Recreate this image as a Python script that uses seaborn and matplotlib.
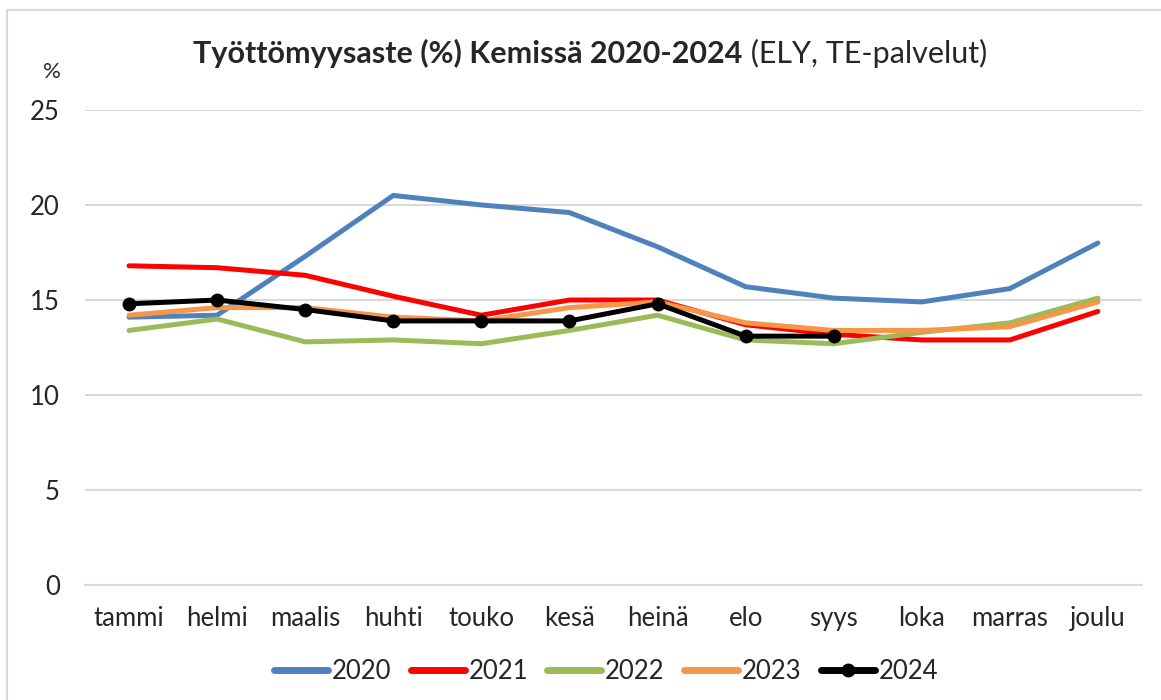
import numpy as np
import pandas as pd
import matplotlib
matplotlib.use('Agg')
import matplotlib.pyplot as plt
import seaborn as sns
from matplotlib.patches import Rectangle

kuukaudet = ['tammi', 'helmi', 'maalis', 'huhti', 'touko', 'kesä',
             'heinä', 'elo', 'syys', 'loka', 'marras', 'joulu']

v2020 = [14.1, 14.2, 17.3, 20.5, 20.0, 19.6, 17.8, 15.7, 15.1, 14.9, 15.6, 18.0]
v2021 = [16.8, 16.7, 16.3, 15.2, 14.2, 15.0, 15.0, 13.7, 13.2, 12.9, 12.9, 14.4]
v2022 = [13.4, 14.0, 12.8, 12.9, 12.7, 13.4, 14.2, 12.9, 12.7, 13.3, 13.8, 15.1]
v2023 = [14.2, 14.6, 14.6, 14.1, 13.9, 14.6, 14.9, 13.8, 13.4, 13.4, 13.6, 14.9]
v2024 = [14.8, 15.0, 14.5, 13.9, 13.9, 13.9, 14.8, 13.1, 13.1, np.nan, np.nan, np.nan]

vuodet = ['2020', '2021', '2022', '2023', '2024']
sarjat = [v2020, v2021, v2022, v2023, v2024]
varit = ['#4F81BD', '#FF0000', '#9BBB59', '#F79646', '#000000']

sns.set_theme(style='white')
plt.rcParams['font.family'] = ['Lato', 'DejaVu Sans']

fig = plt.figure(figsize=(11.61, 7), dpi=100)
ax = fig.add_axes([0.0732, 0.164, 0.9104, 0.679])

# ulkoreunus kuten Excel-kaaviossa
fig.patches.append(Rectangle((0.006, -0.05), 1.2, 1.036, transform=fig.transFigure,
                             fill=False, edgecolor='#D9D9D9', linewidth=1.5))

for vuosi, arvot, vari in zip(vuodet, sarjat, varit):
    df = pd.DataFrame({'kk': np.arange(len(kuukaudet)), 'arvo': arvot}).dropna()
    if vuosi == '2024':
        sns.lineplot(data=df, x='kk', y='arvo', ax=ax, color=vari, linewidth=3.6,
                     marker='o', markersize=10, markeredgewidth=0, label=vuosi)
    else:
        sns.lineplot(data=df, x='kk', y='arvo', ax=ax, color=vari, linewidth=3.6,
                     label=vuosi)

ax.set_xlim(-0.5, 11.5)
ax.set_ylim(0, 25)
ax.set_yticks([0, 5, 10, 15, 20, 25])
ax.set_xticks(range(len(kuukaudet)))
ax.set_xticklabels(kuukaudet, fontsize=18.5)
ax.set_xticks(np.arange(-0.5, 12, 1), minor=True)
ax.tick_params(axis='x', which='major', length=0, pad=15)
ax.tick_params(axis='x', which='minor', length=6, color='#BFBFBF', width=1, direction='out')
ax.tick_params(axis='y', length=0, labelsize=18.5, pad=18)
ax.set_xlabel('')
ax.set_ylabel('')
ax.grid(axis='y', color='#D9D9D9', linewidth=1.5)
ax.set_axisbelow(True)
for s in ['top', 'right', 'left']:
    ax.spines[s].set_visible(False)
ax.spines['bottom'].set_color('#D9D9D9')
ax.spines['bottom'].set_linewidth(1.5)

fig.text(52 / 1161, 1 - 72 / 700, '%', fontsize=16, ha='center', va='center')

# otsikko kahdessa osassa (lihavoitu + normaali), keskitetty x=590 px
otsikko = fig.text(0, 1 - 53 / 700, 'Työttömyysaste (%) Kemissä 2020-2024',
                   fontsize=22, fontweight='bold', ha='left', va='center')
lisa = ax.annotate(' (ELY, TE-palvelut)', xy=(1, 0), xycoords=otsikko, fontsize=22,
                   ha='left', va='bottom')
fig.canvas.draw()
r = fig.canvas.get_renderer()
leveys = otsikko.get_window_extent(r).width + lisa.get_window_extent(r).width
otsikko.set_x((590 - leveys / 2) / 1161)

leg = ax.legend(loc='center', bbox_to_anchor=(0.493, -0.181), ncol=5, frameon=False,
                fontsize=18.5, handlelength=2.1, handletextpad=0.15, columnspacing=0.75)
for h in leg.get_lines():
    h.set_linewidth(5)

fig.savefig('out.png', dpi=100)
